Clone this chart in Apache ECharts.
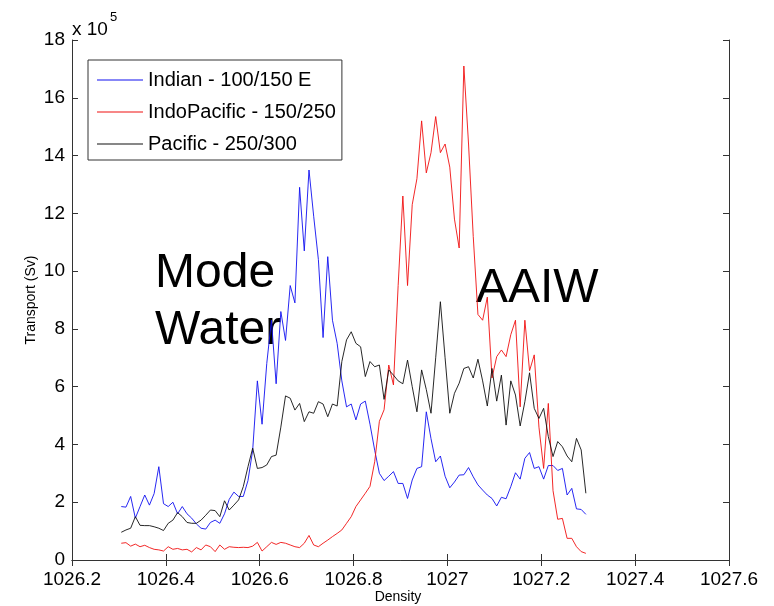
<!DOCTYPE html>
<html>
<head>
<meta charset="utf-8">
<script src="https://cdn.jsdelivr.net/npm/echarts@6/dist/echarts.min.js"></script>
<style>
html,body{margin:0;padding:0;background:#fff;}
#c{width:774px;height:606px;}
</style>
</head>
<body>
<div id="c"></div>
<script>
var density = [
1026.305,1026.315,1026.325,1026.335,1026.345,1026.355,1026.365,1026.375,1026.385,1026.395,
1026.405,1026.415,1026.425,1026.435,1026.445,1026.455,1026.465,1026.475,1026.485,1026.495,
1026.505,1026.515,1026.525,1026.535,1026.545,1026.555,1026.565,1026.575,1026.585,1026.595,
1026.605,1026.615,1026.625,1026.635,1026.645,1026.655,1026.665,1026.675,1026.685,1026.695,
1026.705,1026.715,1026.725,1026.735,1026.745,1026.755,1026.765,1026.775,1026.785,1026.795,
1026.805,1026.815,1026.825,1026.835,1026.845,1026.855,1026.865,1026.875,1026.885,1026.895,
1026.905,1026.915,1026.925,1026.935,1026.945,1026.955,1026.965,1026.975,1026.985,1026.995,
1027.005,1027.015,1027.025,1027.035,1027.045,1027.055,1027.065,1027.075,1027.085,1027.095,
1027.105,1027.115,1027.125,1027.135,1027.145,1027.155,1027.165,1027.175,1027.185,1027.195,
1027.205,1027.215,1027.225,1027.235,1027.245,1027.255,1027.265,1027.275,1027.285,1027.295
];
var indian = [
1.85,1.83,2.2,1.45,1.85,2.25,1.9,2.3,3.23,1.95,
1.85,2.0,1.6,1.85,1.6,1.45,1.25,1.1,1.07,1.3,
1.38,1.27,1.6,2.1,2.35,2.2,2.2,2.75,3.8,6.2,
4.7,6.8,8.3,6.1,8.6,7.6,9.5,8.9,12.9,10.7,
13.5,11.9,10.4,7.7,10.5,8.3,7.5,6.2,5.3,5.4,
4.85,5.4,5.5,4.7,3.8,3.0,2.75,2.9,3.06,2.65,
2.65,2.13,2.77,3.17,3.23,5.13,4.2,3.4,3.6,2.9,
2.5,2.7,2.94,2.95,3.2,2.88,2.6,2.42,2.25,2.13,
1.87,2.17,2.12,2.54,3.02,2.8,3.52,3.72,3.17,3.23,
2.8,3.27,3.27,3.1,3.17,2.25,2.48,1.77,1.75,1.58
];
var indoPacific = [
0.58,0.6,0.48,0.55,0.46,0.51,0.43,0.37,0.35,0.31,
0.46,0.37,0.4,0.35,0.37,0.28,0.43,0.35,0.52,0.46,
0.29,0.52,0.37,0.46,0.44,0.43,0.44,0.43,0.48,0.61,
0.31,0.46,0.61,0.54,0.61,0.58,0.52,0.46,0.43,0.58,
0.85,0.52,0.46,0.58,0.69,0.81,0.92,1.04,1.27,1.5,
1.85,2.08,2.31,2.55,3.4,4.8,5.2,6.75,6.06,9.5,
12.6,9.5,12.3,13.2,15.2,13.4,14.1,15.35,14.1,14.4,
13.6,11.8,10.8,17.1,14.4,11.2,8.5,8.3,9.1,6.3,
7.04,7.27,7.04,7.8,8.3,5.3,8.3,6.55,7.1,4.6,
3.17,5.42,2.4,1.41,1.44,0.75,0.75,0.46,0.29,0.23
];
var pacific = [
0.96,1.04,1.1,1.5,1.2,1.19,1.19,1.15,1.1,1.02,
1.27,1.38,1.64,1.5,1.3,1.27,1.27,1.38,1.55,1.73,
1.71,1.5,2.05,1.73,1.9,2.08,2.54,3.23,3.87,3.17,
3.2,3.29,3.58,3.63,4.6,5.68,5.6,5.19,5.42,4.79,
5.13,5.08,5.48,5.4,4.96,5.4,5.33,6.87,7.62,7.9,
7.5,7.38,6.35,6.87,6.69,6.75,5.56,6.58,6.4,6.2,
6.1,6.92,6.0,5.13,6.58,5.9,5.08,7.0,8.94,7.0,
5.08,5.77,6.12,6.63,6.69,6.3,6.95,6.2,5.33,6.63,
5.5,6.4,4.67,6.2,5.71,4.64,5.48,6.48,5.25,4.9,
5.25,4.27,3.58,4.1,3.92,3.6,3.4,4.21,3.81,2.31
];
var seriesNames = ['Indian - 100/150 E', 'IndoPacific - 150/250', 'Pacific - 250/300'];
var seriesColors = ['#1010f0', '#f01010', '#101010'];
var xTicks = {min: 1026.2, max: 1027.6, interval: 0.2};
var yTicks = {min: 0, max: 18, interval: 2};

function pairs(ys){ return density.map(function(d,i){ return [d, ys[i]]; }); }

var FONT = '"Liberation Sans", Arial, Helvetica, sans-serif';
var axisColor = '#333';
var chart = echarts.init(document.getElementById('c'));
var baseAxisLine = {show:true, lineStyle:{color:axisColor, width:1}};
var baseTick = {show:true, inside:true, length:6, lineStyle:{color:axisColor, width:1}};

chart.setOption({
  animation:false,
  backgroundColor:'#fff',
  grid:{left:72, right:45, top:40, bottom:46, containLabel:false},
  legend:{
    orient:'vertical', left:88, top:60,
    data:seriesNames.map(function(n){ return {name:n, icon:'rect'}; }),
    itemWidth:46, itemHeight:1, itemGap:12,
    padding:[10,6,6,9],
    borderColor:axisColor, borderWidth:1, backgroundColor:'#fff',
    textStyle:{fontFamily:FONT, fontSize:20, color:'#000', lineHeight:20},
    selectedMode:false
  },
  xAxis:[
    {type:'value', min:xTicks.min, max:xTicks.max, interval:xTicks.interval, position:'bottom',
     axisLine:baseAxisLine, axisTick:baseTick, splitLine:{show:false},
     axisLabel:{color:'#000', fontFamily:FONT, fontSize:19, margin:10,
       formatter:function(v){ return String(Math.round(v*10)/10); }}},
    {type:'value', min:xTicks.min, max:xTicks.max, interval:xTicks.interval, position:'top',
     axisLine:baseAxisLine, axisTick:baseTick, splitLine:{show:false}, axisLabel:{show:false}}
  ],
  yAxis:[
    {type:'value', min:yTicks.min, max:yTicks.max, interval:yTicks.interval, position:'left',
     axisLine:baseAxisLine, axisTick:baseTick, splitLine:{show:false},
     axisLabel:{color:'#000', fontFamily:FONT, fontSize:19, margin:7}},
    {type:'value', min:yTicks.min, max:yTicks.max, interval:yTicks.interval, position:'right',
     axisLine:baseAxisLine, axisTick:baseTick, splitLine:{show:false}, axisLabel:{show:false}}
  ],
  series:[
    {name:seriesNames[0], type:'line', data:pairs(indian), showSymbol:false, symbol:'none',
     lineStyle:{color:seriesColors[0], width:0.9}, itemStyle:{color:seriesColors[0]}},
    {name:seriesNames[1], type:'line', data:pairs(indoPacific), showSymbol:false, symbol:'none',
     lineStyle:{color:seriesColors[1], width:0.9}, itemStyle:{color:seriesColors[1]}},
    {name:seriesNames[2], type:'line', data:pairs(pacific), showSymbol:false, symbol:'none',
     lineStyle:{color:seriesColors[2], width:0.9}, itemStyle:{color:seriesColors[2]}}
  ],
  graphic:[
    {type:'text', x:72, y:30, style:{text:'x 10', font:'19px '+FONT, fill:'#000', verticalAlign:'middle'}},
    {type:'text', x:110, y:17, style:{text:'5', font:'13px '+FONT, fill:'#000', verticalAlign:'middle'}},
    {type:'text', x:155, y:274, style:{text:'Mode', font:'48px '+FONT, fill:'#000', verticalAlign:'middle'}},
    {type:'text', x:155, y:331, style:{text:'Water', font:'48px '+FONT, fill:'#000', verticalAlign:'middle'}},
    {type:'text', x:476, y:289, style:{text:'AAIW', font:'48px '+FONT, fill:'#000', verticalAlign:'middle'}},
    {type:'text', x:398, y:597, style:{text:'Density', font:'14px '+FONT, fill:'#000', align:'center', verticalAlign:'middle'}},
    {type:'text', x:31, y:300, rotation:Math.PI/2, style:{text:'Transport (Sv)', font:'14px '+FONT, fill:'#000', align:'center', verticalAlign:'middle'}}
  ]
});
</script>
</body>
</html>
